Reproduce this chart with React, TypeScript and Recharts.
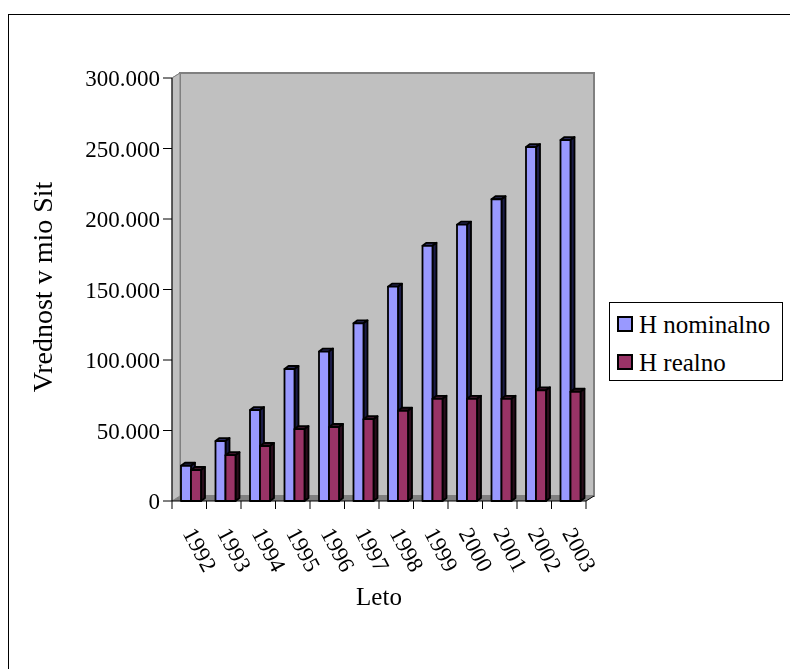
import { BarChart, Bar, XAxis, YAxis, CartesianGrid, Legend, Customized } from "recharts";

const years = ["1992", "1993", "1994", "1995", "1996", "1997", "1998", "1999", "2000", "2001", "2002", "2003"];
const nominal = [25000, 42500, 64500, 93600, 106000, 126000, 152000, 181000, 196000, 214000, 251000, 256000];
const realno = [22000, 32500, 39000, 51000, 52500, 58000, 64000, 72500, 72500, 72500, 78500, 77500];
const yTicks = [0, 50000, 100000, 150000, 200000, 250000, 300000];

const data = years.map((year, i) => ({ year, nominal: nominal[i], realno: realno[i] }));

const FONT = "'Liberation Serif', serif";
const W = 782;
const H = 661;
// front plane of the plot (svg coords)
const PL = 164;
const PT = 70;
const PW = 414;
const PH = 423;
const YW = 80;
const XH = 90;
// 3d depth of the walls
const DX = 8;
const DY = 5;

function fmt(v: number) {
  return v === 0 ? "0" : `${v / 1000}.000`;
}

function Box3D(props: any) {
  const { x, y, width, height, fill, side, top } = props;
  if (width == null || height == null || height <= 0) return null;
  const bx = x + 2;
  const d = 4;
  const e = 3;
  return (
    <g stroke="#000" strokeWidth={1.8} strokeLinejoin="round">
      <polygon
        points={`${bx},${y} ${bx + d},${y - e} ${bx + width + d},${y - e} ${bx + width},${y}`}
        fill={top}
      />
      <polygon
        points={`${bx + width},${y} ${bx + width + d},${y - e} ${bx + width + d},${y + height - e} ${bx + width},${y + height}`}
        fill={side}
      />
      <rect x={bx} y={y} width={width} height={height} fill={fill} />
    </g>
  );
}

function GridLine(props: any) {
  const { x1, y1, x2 } = props;
  if (Math.abs(y1 - (PT + PH)) < 1) return <g />;
  const top = Math.abs(y1 - PT) < 1;
  const col = top ? "#808080" : "#1a1a1a";
  return (
    <g>
      <line x1={x1} y1={y1} x2={x1 + DX} y2={y1 - DY} stroke={col} strokeWidth={1} />
      {!top && <line x1={x1 + DX} y1={y1 - DY} x2={x2 + DX} y2={y1 - DY} stroke={col} strokeWidth={1} />}
    </g>
  );
}

function Walls() {
  const bottom = PT + PH;
  return (
    <g>
      <rect x={PL + DX} y={PT - DY} width={PW} height={PH} fill="#c0c0c0" stroke="#808080" strokeWidth={2} />
      <polygon
        points={`${PL},${bottom} ${PL},${PT} ${PL + DX},${PT - DY} ${PL + DX},${bottom - DY}`}
        fill="#c0c0c0"
        stroke="#808080"
        strokeWidth={1}
      />
      <polygon
        points={`${PL},${bottom} ${PL + DX},${bottom - DY} ${PL + PW + DX},${bottom - DY} ${PL + PW},${bottom}`}
        fill="#808080"
      />
      <line x1={PL + PW} y1={bottom} x2={PL + PW + DX} y2={bottom - DY} stroke="#000" strokeWidth={1} />
      <text
        x={34}
        y={279}
        transform="rotate(-90 34 279)"
        textAnchor="middle"
        dominantBaseline="central"
        fontFamily={FONT}
        fontSize={28}
        fill="#000"
      >
        Vrednost v mio Sit
      </text>
      <text x={PL + PW / 2} y={597} textAnchor="middle" fontFamily={FONT} fontSize={25} fill="#000">
        Leto
      </text>
    </g>
  );
}

function YearTick(props: any) {
  const { x, y, payload, index } = props;
  const band = PW / years.length;
  return (
    <g>
      <line x1={x - band / 2} y1={y} x2={x - band / 2} y2={y + 8} stroke="#000" />
      {index === years.length - 1 && <line x1={x + band / 2} y1={y} x2={x + band / 2} y2={y + 8} stroke="#000" />}
      <text
        transform={`translate(${x - 7},${y + 32}) rotate(62)`}
        fontFamily={FONT}
        fontSize={23}
        fill="#000"
      >
        {payload.value}
      </text>
    </g>
  );
}

function LegendBox(props: any) {
  const items = props.payload || [];
  return (
    <div
      style={{
        border: "1px solid #000",
        background: "#fff",
        width: 172,
        height: 75,
        boxSizing: "content-box",
        paddingTop: 2,
        fontFamily: FONT,
        fontSize: 25,
        lineHeight: 1,
        color: "#000",
      }}
    >
      {items.map((it: any) => (
        <div key={it.value} style={{ display: "flex", alignItems: "center", height: 38, paddingLeft: 7 }}>
          <span
            style={{
              display: "inline-block",
              width: 12,
              height: 12,
              border: "2px solid #000",
              background: it.color,
              marginRight: 6,
            }}
          />
          <span>{it.value}</span>
        </div>
      ))}
    </div>
  );
}

export default function App() {
  return (
    <>
      {/* chart frame: only its top and left edges fall inside the picture */}
      <div
        style={{
          position: "fixed",
          left: 8,
          top: 14,
          width: 1200,
          height: 1200,
          borderTop: "1px solid #000",
          borderLeft: "1px solid #000",
        }}
      />
      <div style={{ position: "fixed", left: 8, top: 8, width: W, height: H, overflow: "hidden" }}>
        <BarChart
          width={W}
          height={H}
          data={data}
          style={{ outline: "none" }}
          accessibilityLayer={false}
          margin={{ top: PT, right: W - PL - PW, bottom: H - PT - PH - XH, left: PL - YW }}
          barSize={10}
          barGap={0}
        >
          <Customized component={Walls} />
          <CartesianGrid vertical={false} horizontal={(p: any) => <GridLine {...p} />} />
          <XAxis
            dataKey="year"
            height={XH}
            interval={0}
            tickSize={0}
            tickMargin={0}
            tickLine={false}
            axisLine={{ stroke: "#000", strokeWidth: 1 }}
            tick={<YearTick />}
          />
          <YAxis
            width={YW}
            domain={[0, 300000]}
            ticks={yTicks}
            tickFormatter={fmt}
            tickSize={9}
            tickMargin={3}
            axisLine={{ stroke: "#000", strokeWidth: 1 }}
            tickLine={{ stroke: "#000" }}
            tick={{ fill: "#000", fontSize: 23, fontFamily: FONT }}
          />
          <Legend
            layout="vertical"
            align="center"
            verticalAlign="middle"
            wrapperStyle={{ left: 601, top: 294, width: 174 }}
            content={<LegendBox />}
          />
          <Bar
            dataKey="nominal"
            name="H nominalno"
            fill="#9999ff"
            isAnimationActive={false}
            shape={(p: any) => <Box3D {...p} fill="#9999ff" side="#1c1c48" top="#2a2a5a" />}
          />
          <Bar
            dataKey="realno"
            name="H realno"
            fill="#993366"
            isAnimationActive={false}
            shape={(p: any) => <Box3D {...p} fill="#993366" side="#2a0d1c" top="#3a1428" />}
          />
        </BarChart>
      </div>
    </>
  );
}
